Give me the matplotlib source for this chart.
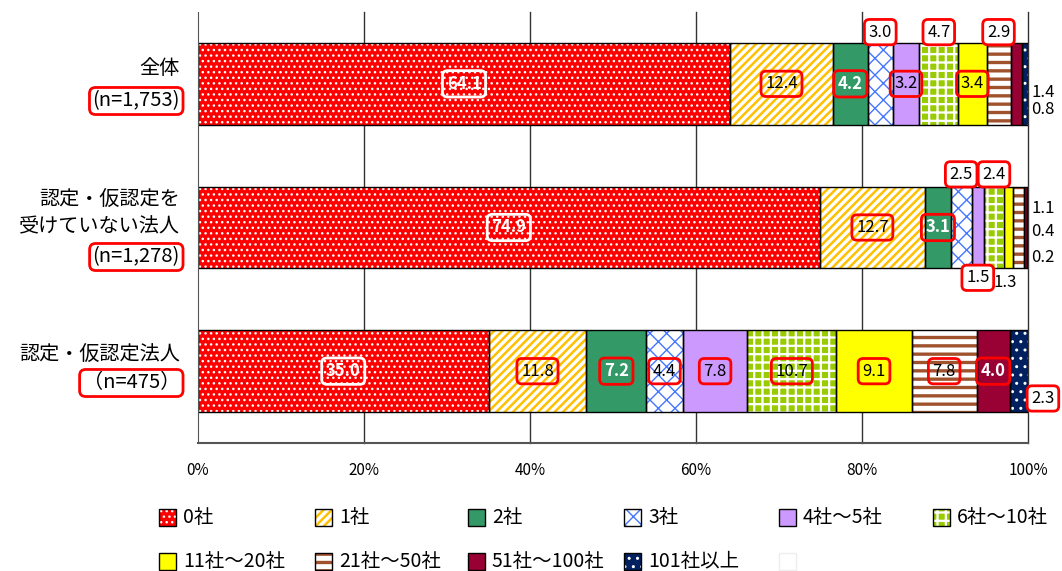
import matplotlib
matplotlib.use('Agg')

import numpy as np
import matplotlib.pyplot as plt
from matplotlib.patches import Rectangle

plt.rcParams['font.family'] = ['Noto Sans CJK JP', 'DejaVu Sans']

# 回答法人の区分と、取引先企業数ごとの割合 (%)
groups = ['全体', '認定・仮認定を\n受けていない法人', '認定・仮認定法人']
group_n = ['(n=1,753)', '(n=1,278)', '（n=475）']
categories = ['0社', '1社', '2社', '3社', '4社～5社', '6社～10社',
              '11社～20社', '21社～50社', '51社～100社', '101社以上']
share_all = [64.1, 12.4, 4.2, 3.0, 3.2, 4.7, 3.4, 2.9, 1.4, 0.8]
share_non = [74.9, 12.7, 3.1, 2.5, 1.5, 2.4, 1.1, 1.3, 0.4, 0.2]
share_cert = [35.0, 11.8, 7.2, 4.4, 7.8, 10.7, 9.1, 7.8, 4.0, 2.3]
shares = [share_all, share_non, share_cert]
xticks = [0, 20, 40, 60, 80, 100]

# fill colour, hatch colour, hatch, hatch line width
styles = [
    ('#FF0000', 'white', '...', 1.0),
    ('white', '#FFC000', '////', 1.8),
    ('#339966', None, None, 0),
    ('white', '#4477FF', 'xx', 1.0),
    ('#CC99FF', None, None, 0),
    ('#99CC00', 'white', '++', 1.6),
    ('#FFFF00', None, None, 0),
    ('white', '#A0522D', '--', 2.4),
    ('#990033', None, None, 0),
    ('#002060', 'white', '..', 1.0),
]

# how each value label is drawn: kind, x shift, y shift (data units)
label_place = {
    (0, 0): ('white', 0, 0), (0, 1): ('red', 0, 0), (0, 2): ('redw', 0, 0),
    (0, 3): ('redbg', 0, -0.36), (0, 4): ('red', 0, 0), (0, 5): ('redbg', 0, -0.36),
    (0, 6): ('red', 0, 0), (0, 7): ('redbg', 0, -0.36),
    (0, 8): ('plain', None, 0.06), (0, 9): ('plain', None, 0.18),
    (1, 0): ('white', 0, 0), (1, 1): ('red', 0, 0), (1, 2): ('redw', 0, 0),
    (1, 3): ('redbg', 0, -0.37), (1, 4): ('redbg', 0, 0.35), (1, 5): ('redbg', 0, -0.37),
    (1, 6): ('plain', None, -0.13), (1, 7): ('plain', -1.6, 0.38),
    (1, 8): ('plain', None, 0.03), (1, 9): ('plain', None, 0.21),
    (2, 0): ('white', 0, 0), (2, 1): ('red', 0, 0), (2, 2): ('redw', 0, 0),
    (2, 3): ('red', 0, 0), (2, 4): ('red', 0, 0), (2, 5): ('red', 0, 0),
    (2, 6): ('red', 0, 0), (2, 7): ('red', 0, 0), (2, 8): ('redw', 0, 0),
    (2, 9): ('redbg', None, 0.19),
}

label_kinds = {
    'white': dict(color='white', fontweight='bold', fc='none', ec='white'),
    'redw': dict(color='white', fontweight='bold', fc='none', ec='#FF0000'),
    'red': dict(color='black', fontweight='normal', fc='none', ec='#FF0000'),
    'redbg': dict(color='black', fontweight='normal', fc='white', ec='#FF0000'),
    'plain': dict(color='black', fontweight='normal', fc=None, ec=None),
}


def hatched_rect(xy, w, h, style, **kw):
    fc, hc, hatch, hlw = style
    base = Rectangle(xy, w, h, facecolor=fc, edgecolor=hc if hc else fc,
                     hatch=hatch, linewidth=0, **kw)
    if hatch and hasattr(base, 'set_hatch_linewidth'):
        base.set_hatch_linewidth(hlw)
    edge = Rectangle(xy, w, h, fill=False, edgecolor='black', linewidth=1, **kw)
    return base, edge


fig = plt.figure(figsize=(10.62, 5.71), dpi=100)
ax = fig.add_axes([198 / 1062, 1 - 443 / 571, 830 / 1062, 431 / 571])

bar_h = 0.57
for i, row in enumerate(shares):
    lefts = np.concatenate([[0], np.cumsum(row)[:-1]])
    for j, (w, left) in enumerate(zip(row, lefts)):
        with plt.rc_context({'hatch.linewidth': styles[j][3] or 1.0}):
            base, edge = hatched_rect((left, i - bar_h / 2), w, bar_h, styles[j])
        base.set_zorder(2)
        edge.set_zorder(3)
        ax.add_patch(base)
        ax.add_patch(edge)

        kind, dx, dy = label_place[(i, j)]
        k = label_kinds[kind]
        x = 101.8 if dx is None else left + w / 2 + dx
        bbox = None
        if k['ec']:
            bbox = dict(boxstyle='round,pad=0.25,rounding_size=0.3',
                        fc=k['fc'], ec=k['ec'], lw=2)
        ax.text(x, i + dy, f'{w:.1f}', ha='center', va='center', fontsize=12,
                color=k['color'], fontweight=k['fontweight'], zorder=5, bbox=bbox)

ax.set_xlim(0, 100)
ax.set_ylim(2.5, -0.5)
ax.set_yticks([])
ax.set_xticks(xticks)
ax.set_xticklabels([f'{t}%' for t in xticks], fontsize=11)
ax.tick_params(axis='x', length=0, pad=14)
for t in xticks[1:]:
    ax.axvline(t, color='#333333', lw=1, zorder=1, clip_on=False)
for side in ['top', 'right']:
    ax.spines[side].set_visible(False)
ax.spines['left'].set_color('#555555')
ax.spines['bottom'].set_color('#555555')
ax.spines['bottom'].set_linewidth(1.5)
ax.spines['left'].set_zorder(4)


def fx(px):
    return px / 1062


def fy(py):
    return 1 - py / 571


# group names on the left, with the sample size boxed in red
name_pos = [68, 214, 355]
n_pos = [101, 257, 383]
for name, n, yn, yc in zip(groups, group_n, name_pos, n_pos):
    fig.text(fx(180), fy(yn), name, ha='right', va='center', fontsize=14.5,
             linespacing=1.35)
    fig.text(fx(180), fy(yc), n, ha='right', va='center', fontsize=14.5,
             bbox=dict(boxstyle='round,pad=0.15,rounding_size=0.3',
                       fc='none', ec='#FF0000', lw=2))

# legend laid out as a 6 x 2 grid
col_x = [159, 315, 468, 624, 779, 933]
row_y = [509, 553]
sq = 17
for k, name in enumerate(categories):
    r, c = divmod(k, 6)
    x0, y0 = fx(col_x[c]), fy(row_y[r] + sq)
    with plt.rc_context({'hatch.linewidth': styles[k][3] or 1.0}):
        base, edge = hatched_rect((x0, y0), sq / 1062, sq / 571, styles[k],
                                  transform=fig.transFigure)
    fig.add_artist(base)
    fig.add_artist(edge)
    fig.text(fx(col_x[c] + sq + 7), fy(row_y[r] + sq / 2), name,
             ha='left', va='center', fontsize=14)
fig.add_artist(Rectangle((fx(779), fy(553 + sq)), sq / 1062, sq / 571,
                         fill=False, edgecolor='#EEEEEE', lw=1,
                         transform=fig.transFigure))

fig.savefig('out.png', dpi=100)
